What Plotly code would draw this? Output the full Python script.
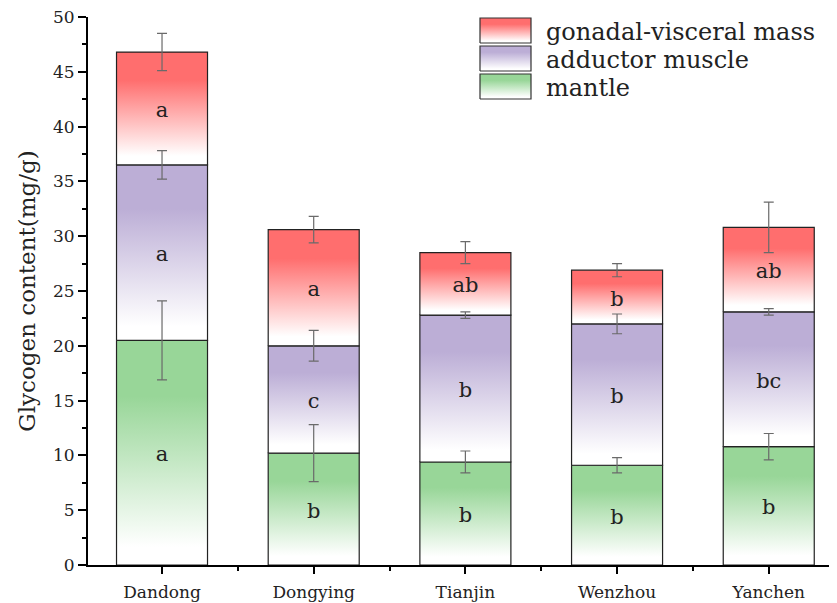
import plotly.graph_objects as go

sites = ["Dandong", "Dongying", "Tianjin", "Wenzhou", "Yanchen"]
mantle = [20.5, 10.2, 9.4, 9.1, 10.8]
mantle_err = [3.6, 2.6, 1.0, 0.7, 1.2]
adductor = [16.0, 9.8, 13.4, 12.9, 12.3]
adductor_err = [1.3, 1.4, 0.3, 0.9, 0.3]
gonadal = [10.3, 10.6, 5.7, 4.9, 7.7]
gonadal_err = [1.7, 1.2, 1.0, 0.6, 2.3]
mantle_lbl = ["a", "b", "b", "b", "b"]
adductor_lbl = ["a", "c", "b", "b", "bc"]
gonadal_lbl = ["a", "a", "ab", "b", "ab"]

series = [
    ("mantle", mantle, mantle_err, mantle_lbl, "#98d698"),
    ("adductor muscle", adductor, adductor_err, adductor_lbl, "#bcaed6"),
    ("gonadal-visceral mass", gonadal, gonadal_err, gonadal_lbl, "#ff6e6e"),
]


def grad(col):
    return [[0, "#ffffff"], [0.08, "#ffffff"], [0.75, col], [1, col]]


FONT = "DejaVu Serif"
bw = 0.6
fig = go.Figure()
base = [0.0] * len(sites)
err_traces = []
lbl_x, lbl_y, lbl_t = [], [], []
for name, vals, errs, lbls, col in series:
    for i, s in enumerate(sites):
        b0 = base[i]
        b1 = b0 + vals[i]
        fig.add_trace(go.Scatter(
            x=[i - bw / 2, i + bw / 2, i + bw / 2, i - bw / 2, i - bw / 2],
            y=[b0, b0, b1, b1, b0],
            mode="lines", fill="toself",
            line=dict(color="#222222", width=1.2),
            fillgradient=dict(type="vertical", start=b0, stop=b1, colorscale=grad(col)),
            name=name, showlegend=False, hoverinfo="skip",
        ))
        lbl_x.append(i)
        lbl_y.append((b0 + b1) / 2 - 0.3)
        lbl_t.append(lbls[i])
        base[i] = b1
    err_traces.append(go.Scatter(
        x=list(range(len(sites))), y=list(base), mode="markers",
        marker=dict(size=1, color="rgba(0,0,0,0)"),
        error_y=dict(type="data", array=errs, color="#6a6a6a", thickness=1.2, width=5),
        showlegend=False, hoverinfo="skip",
    ))

fig.add_trace(go.Scatter(x=lbl_x, y=lbl_y, mode="text", text=lbl_t,
                         textfont=dict(family=FONT, size=21, color="#222222"),
                         showlegend=False, hoverinfo="skip"))
for t in err_traces:
    fig.add_trace(t)

# custom legend drawn on an overlay axis measured in layout pixels
leg_x0, leg_x1 = 480, 531
leg_rows = [(18, 43), (46, 71), (74, 99)]
for (name, vals, errs, lbls, col), (y0, y1) in zip(series[::-1], leg_rows):
    fig.add_trace(go.Scatter(
        x=[leg_x0, leg_x1, leg_x1, leg_x0, leg_x0], y=[y1, y1, y0, y0, y1],
        xaxis="x2", yaxis="y2", mode="lines", fill="toself",
        line=dict(color="#333333", width=1.2),
        fillgradient=dict(type="vertical", start=y1, stop=y0, colorscale=grad(col)),
        showlegend=False, hoverinfo="skip",
    ))
    fig.add_annotation(x=544, y=(y0 + y1) / 2 + 1, xref="x2", yref="y2", text=name,
                       showarrow=False, xanchor="left", yanchor="middle",
                       font=dict(family=FONT, size=24, color="#222222"))

fig.update_layout(
    width=829, height=595,
    margin=dict(l=80, r=0, t=9, b=38),
    plot_bgcolor="white", paper_bgcolor="white",
    font=dict(family=FONT, color="#222222"),
    showlegend=False,
    xaxis2=dict(overlaying="x", range=[88, 837], visible=False, fixedrange=True),
    yaxis2=dict(overlaying="y", range=[565, 17], visible=False, fixedrange=True),
)
fig.update_layout(yaxis=dict(
    range=[0, 50], tickmode="linear", tick0=0, dtick=5,
    showline=True, linecolor="black", linewidth=2, ticks="outside", ticklen=8,
    tickwidth=2, tickcolor="black", tickfont=dict(family=FONT, size=17),
    ticklabeloverflow="allow",
    minor=dict(dtick=2.5, ticks="outside", ticklen=4, tickwidth=2, tickcolor="black"),
    title=dict(text="Glycogen content(mg/g)", font=dict(family=FONT, size=23), standoff=11),
    showgrid=False, zeroline=False,
))
fig.update_layout(xaxis=dict(range=[-0.488, 4.45], tickmode="array", tickvals=list(range(5)),
    ticktext=sites, showline=True, linecolor="black", linewidth=2, ticks="outside", ticklen=7,
    tickwidth=2, tickcolor="black", tickfont=dict(family=FONT, size=17),
    ticklabelstandoff=4, ticklabeloverflow="allow",
    minor=dict(tickmode="array", tickvals=[0.5, 1.5, 2.5, 3.5], ticks="outside",
               ticklen=4, tickwidth=2, tickcolor="black"),
    showgrid=False, zeroline=False, fixedrange=True))
fig.write_html("out.html")
